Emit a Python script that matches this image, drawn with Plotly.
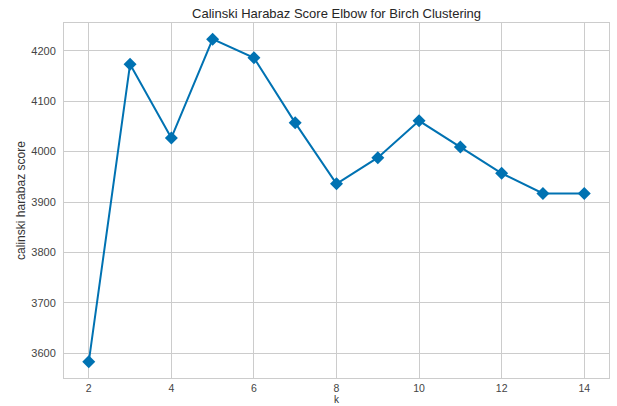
import plotly.graph_objects as go

# Calinski-Harabaz score for each number of clusters k (Birch)
k_values = [2, 3, 4, 5, 6, 7, 8, 9, 10, 11, 12, 13, 14]
scores = [3583, 4173, 4027, 4223, 4186, 4057, 3936, 3988, 4061, 4009, 3957, 3917, 3917]

x_ticks = [2, 4, 6, 8, 10, 12, 14]
y_ticks = [3600, 3700, 3800, 3900, 4000, 4100, 4200]

LINE_COLOR = "#0072B2"
GRID_COLOR = "#cccccc"
TEXT_COLOR = "#333333"

fig = go.Figure(
    go.Scatter(
        x=k_values,
        y=scores,
        mode="lines+markers",
        line=dict(color=LINE_COLOR, width=2),
        marker=dict(symbol="diamond", size=10, color=LINE_COLOR),
        showlegend=False,
    )
)

# 5% padding around the data, like a default matplotlib axis
x_pad = (max(k_values) - min(k_values)) * 0.05
y_pad = (max(scores) - min(scores)) * 0.05

fig.update_layout(
    width=617,
    height=406,
    margin=dict(l=64, r=8, t=23, b=28),
    paper_bgcolor="white",
    plot_bgcolor="white",
    font=dict(family="Liberation Sans, Arial, sans-serif", color=TEXT_COLOR, size=11),
    title=dict(
        text="Calinski Harabaz Score Elbow for Birch Clustering",
        x=0.5455,
        xanchor="center",
        y=0.968,
        yanchor="middle",
        font=dict(size=13, color="#262626"),
    ),
    annotations=[
        dict(
            text="k",
            xref="paper", yref="paper",
            x=0.5, y=-0.0789,
            xanchor="center", yanchor="bottom",
            showarrow=False,
            borderpad=0,
            font=dict(size=10, color=TEXT_COLOR),
        ),
        dict(
            text="calinski harabaz score",
            xref="paper", yref="paper",
            x=-0.08, y=0.5,
            xanchor="center", yanchor="middle",
            textangle=-90,
            showarrow=False,
            font=dict(size=12, color=TEXT_COLOR),
        ),
    ],
)

fig.update_xaxes(
    range=[min(k_values) - x_pad, max(k_values) + x_pad],
    tickvals=x_ticks,
    ticktext=[str(t) for t in x_ticks],
    showgrid=True,
    gridcolor=GRID_COLOR,
    gridwidth=1,
    showline=True,
    linecolor=GRID_COLOR,
    linewidth=1,
    mirror=True,
    zeroline=False,
    ticks="",
    tickfont=dict(size=10.5, color="#444444"),
    automargin=False,
)

fig.update_yaxes(
    range=[min(scores) - y_pad, max(scores) + y_pad],
    tickvals=y_ticks,
    ticktext=[str(t) for t in y_ticks],
    showgrid=True,
    gridcolor=GRID_COLOR,
    gridwidth=1,
    showline=True,
    linecolor=GRID_COLOR,
    linewidth=1,
    mirror=True,
    zeroline=False,
    ticks="outside",
    ticklen=5,
    tickcolor="rgba(0,0,0,0)",
    tickfont=dict(size=11, color="#444444"),
    automargin=False,
)

fig.write_html("out.html")
